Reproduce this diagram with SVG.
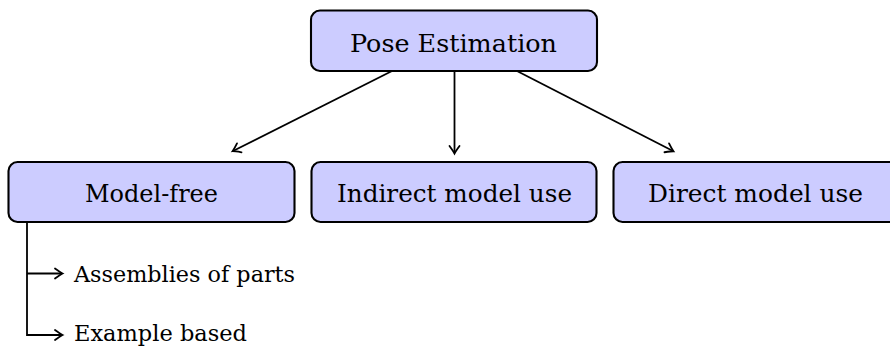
<svg xmlns="http://www.w3.org/2000/svg" width="890" height="347" viewBox="0 0 890 347">
<defs>
<style>
.box{fill:#ccccff;stroke:#000;stroke-width:2.1}
.lbl{font-family:"DejaVu Serif","Liberation Serif",serif;font-size:25px;fill:#000}
.sub{font-family:"DejaVu Serif","Liberation Serif",serif;font-size:22.5px;fill:#000}
.edge{fill:none;stroke:#000;stroke-width:1.8}
</style>
<marker id="arr" markerUnits="userSpaceOnUse" markerWidth="20" markerHeight="20" refX="0" refY="0" viewBox="-10 -10 20 20" orient="auto" overflow="visible">
<path d="M-7,-5 Q-1.5,-1 0.5,0 Q-1.5,1 -7,5" fill="none" stroke="#000" stroke-width="1.8" stroke-linecap="round"/>
</marker>
</defs>
<rect width="890" height="347" fill="#fff"/>
<g id="edges">
<path class="edge" d="M392,71 L233,151" marker-end="url(#arr)"/>
<path class="edge" d="M454.5,71 L454.5,153" marker-end="url(#arr)"/>
<path class="edge" d="M517,71 L673,151" marker-end="url(#arr)"/>
<path class="edge" d="M27,222 V335 H62" marker-end="url(#arr)"/>
<path class="edge" d="M27,273.5 H62" marker-end="url(#arr)"/>
</g>
<g id="pose">
<rect class="box" x="311" y="10.5" width="286" height="60.5" rx="9"/>
<text class="lbl" x="350" y="52" textLength="207" lengthAdjust="spacingAndGlyphs">Pose Estimation</text>
</g>
<g id="modelfree">
<rect class="box" x="8.5" y="162" width="286" height="60" rx="9"/>
<text class="lbl" x="85" y="202" textLength="133" lengthAdjust="spacingAndGlyphs">Model-free</text>
</g>
<g id="indirect">
<rect class="box" x="311.5" y="162" width="285" height="60" rx="9"/>
<text class="lbl" x="337" y="202" textLength="235" lengthAdjust="spacingAndGlyphs">Indirect model use</text>
</g>
<g id="direct">
<rect class="box" x="613.5" y="162" width="286" height="60" rx="9"/>
<text class="lbl" x="648" y="202" textLength="215" lengthAdjust="spacingAndGlyphs">Direct model use</text>
</g>
<g id="assemblies">
<text class="sub" x="74" y="282" textLength="221" lengthAdjust="spacingAndGlyphs">Assemblies of parts</text>
</g>
<g id="example">
<text class="sub" x="74" y="341" textLength="173" lengthAdjust="spacingAndGlyphs">Example based</text>
</g>
</svg>
